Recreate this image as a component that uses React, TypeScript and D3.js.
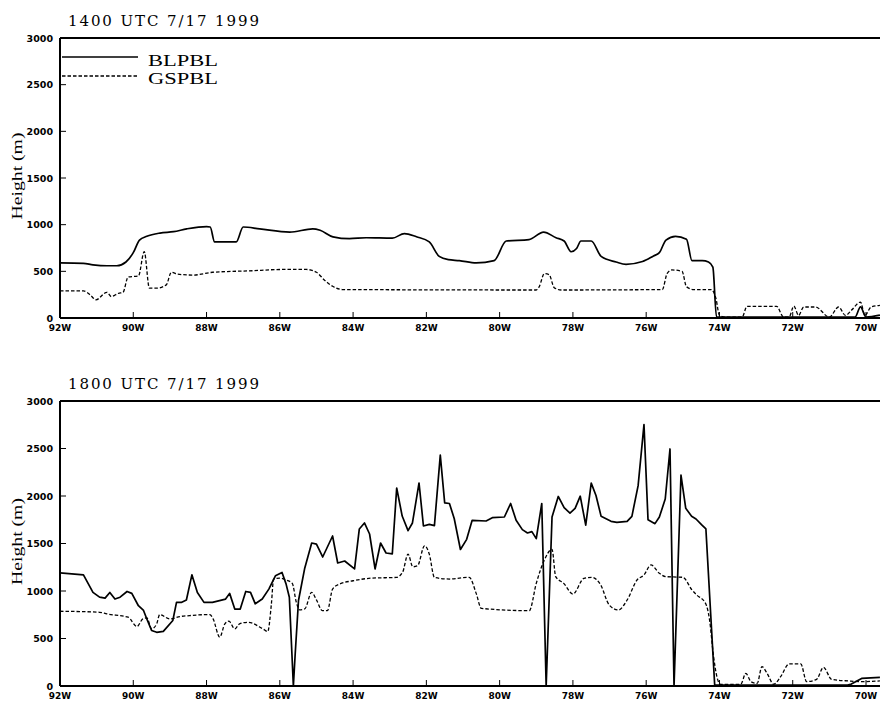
import React from "react";
import * as d3 from "d3";

// Boundary-layer depth along a west-to-east transect, two analysis times.
const titles = ["1400 UTC 7/17 1999", "1800 UTC 7/17 1999"];
const seriesNames = ["BLPBL", "GSPBL"];
const lonTicks = [-92, -90, -88, -86, -84, -82, -80, -78, -76, -74, -72, -70];
const heightTicks = [0, 500, 1000, 1500, 2000, 2500, 3000];

// 1400 UTC, BLPBL
const bl14Lon = [-92, -91.36, -91.1, -90.72, -90.45, -90.2, -90.0, -89.83, -89.63, -89.27, -88.9, -88.54, -88.0, -87.9, -87.78, -87.19, -87.0, -86.55, -85.73, -85.1, -84.9, -84.55, -84.1, -83.64, -82.93, -82.6, -82.27, -81.92, -81.65, -81.4, -81.1, -80.64, -80.15, -79.82, -79.2, -78.8, -78.46, -78.24, -78.05, -77.9, -77.78, -77.5, -77.23, -76.82, -76.55, -76.1, -75.8, -75.64, -75.46, -75.2, -74.9, -74.75, -74.47, -74.3, -74.18, -74.08, -73.5, -72.5, -71.5, -70.5, -70.3, -70.15, -70.0, -69.62];
const bl14Val = [590, 585, 570, 560, 560, 600, 700, 835, 875, 910, 925, 955, 980, 975, 815, 815, 975, 955, 920, 955, 940, 870, 850, 860, 855, 905, 870, 815, 660, 625, 615, 590, 615, 825, 840, 920, 860, 825, 710, 745, 825, 825, 660, 600, 575, 605, 665, 700, 835, 875, 845, 615, 615, 600, 545, 10, 10, 10, 10, 10, 10, 120, 10, 30];

// 1400 UTC, GSPBL
const gs14Lon = [-92, -91.36, -91.18, -91.02, -90.72, -90.6, -90.4, -90.28, -90.14, -89.86, -89.7, -89.56, -89.36, -89.1, -88.96, -88.8, -88.37, -87.83, -86.83, -85.92, -85.28, -85.0, -84.78, -84.56, -84.29, -79.0, -78.92, -78.78, -78.65, -78.51, -78.32, -75.56, -75.43, -75.3, -75.02, -74.9, -74.7, -74.23, -74.1, -74.0, -73.86, -73.38, -73.25, -72.44, -72.25, -72.1, -71.97, -71.84, -71.7, -71.38, -71.0, -70.75, -70.56, -70.4, -70.15, -70.03, -69.86, -69.62];
const gs14Val = [290, 290, 250, 195, 275, 230, 265, 275, 440, 450, 710, 320, 320, 355, 490, 470, 460, 490, 505, 520, 520, 490, 405, 340, 305, 300, 335, 475, 465, 325, 300, 305, 475, 515, 500, 335, 305, 305, 215, 30, 10, 10, 125, 125, 10, 10, 128, 28, 118, 118, 10, 118, 28, 82, 171, 28, 118, 135];

// 1800 UTC, BLPBL
const bl18Lon = [-92, -91.36, -91.1, -90.92, -90.77, -90.64, -90.5, -90.36, -90.17, -90.04, -89.86, -89.72, -89.63, -89.5, -89.36, -89.18, -88.92, -88.82, -88.69, -88.55, -88.4, -88.25, -88.07, -87.84, -87.48, -87.37, -87.23, -87.08, -86.93, -86.8, -86.67, -86.48, -86.3, -86.12, -85.94, -85.83, -85.74, -85.67, -85.63, -85.58, -85.49, -85.32, -85.13, -85.0, -84.83, -84.56, -84.42, -84.23, -83.96, -83.83, -83.69, -83.55, -83.4, -83.25, -83.1, -82.93, -82.81, -82.66, -82.5, -82.38, -82.2, -82.08, -81.92, -81.78, -81.62, -81.5, -81.37, -81.24, -81.07, -80.9, -80.75, -80.37, -80.2, -79.87, -79.7, -79.55, -79.38, -79.24, -79.12, -79.0, -78.85, -78.73, -78.57, -78.4, -78.24, -78.08, -77.94, -77.8, -77.65, -77.5, -77.37, -77.23, -76.96, -76.8, -76.52, -76.39, -76.22, -76.06, -75.95, -75.76, -75.64, -75.48, -75.35, -75.24, -75.05, -74.92, -74.76, -74.64, -74.49, -74.37, -74.13, -73.5, -72.5, -71.5, -70.5, -70.4, -70.12, -69.62];
const bl18Val = [1190, 1170, 985, 935, 925, 985, 915, 935, 995, 975, 845, 795, 705, 585, 565, 575, 690, 880, 880, 905, 1170, 985, 880, 880, 915, 975, 810, 810, 995, 985, 865, 915, 1020, 1160, 1195, 1075, 935, 340, 0, 340, 900, 1240, 1505, 1494, 1358, 1579, 1295, 1316, 1232, 1653, 1716, 1600, 1232, 1505, 1400, 1390, 2084, 1789, 1635, 1716, 2137, 1684, 1702, 1688, 2430, 1928, 1921, 1763, 1437, 1544, 1744, 1737, 1772, 1779, 1921, 1744, 1646, 1611, 1625, 1551, 1921, 0, 1779, 1995, 1877, 1821, 1870, 1998, 1693, 2135, 2005, 1786, 1733, 1723, 1733, 1786, 2109, 2751, 1751, 1709, 1779, 1968, 2495, 0, 2221, 1870, 1786, 1758, 1698, 1653, 10, 10, 10, 10, 10, 20, 80, 90];

// 1800 UTC, GSPBL
const gs18Lon = [-92, -90.92, -90.72, -90.14, -89.9, -89.74, -89.63, -89.5, -89.36, -89.28, -89.0, -88.73, -88.46, -87.91, -87.82, -87.64, -87.5, -87.39, -87.23, -87.1, -86.87, -86.46, -86.33, -86.23, -86.17, -86.0, -85.82, -85.66, -85.55, -85.46, -85.32, -85.13, -85.0, -84.84, -84.7, -84.56, -84.37, -84.0, -83.47, -82.82, -82.65, -82.5, -82.37, -82.24, -82.05, -81.92, -81.78, -81.37, -80.83, -80.64, -80.5, -79.19, -79.0, -78.78, -78.57, -78.47, -78.25, -78.0, -77.7, -77.48, -77.24, -77.01, -76.76, -76.52, -76.25, -76.06, -75.87, -75.64, -75.46, -75.0, -74.75, -74.62, -74.38, -74.27, -74.16, -74.07, -73.97, -73.42, -73.28, -73.14, -72.97, -72.84, -72.7, -72.52, -72.33, -72.1, -71.78, -71.62, -71.35, -71.16, -70.94, -70.47, -70.12, -69.62];
const gs18Val = [787, 776, 759, 724, 626, 706, 717, 601, 654, 752, 706, 731, 741, 752, 706, 514, 654, 682, 601, 654, 671, 601, 573, 864, 1126, 1136, 1115, 1080, 881, 801, 811, 986, 906, 794, 794, 1021, 1073, 1108, 1136, 1143, 1196, 1388, 1255, 1266, 1476, 1388, 1143, 1126, 1144, 975, 817, 793, 1080, 1326, 1439, 1151, 1080, 968, 1133, 1144, 1063, 853, 800, 905, 1116, 1168, 1274, 1186, 1151, 1144, 1011, 958, 870, 695, 309, 98, 18, 18, 133, 46, 28, 204, 133, 18, 98, 232, 232, 46, 70, 196, 70, 53, 46, 53];

const W = 882;
const H = 705;
const X0 = 60;
const X1 = 880;

type Series = { lon: number[]; val: number[]; dashed: boolean; smooth: boolean };

const panels = [
  {
    title: titles[0],
    top: 38,
    bottom: 318,
    legend: true,
    series: [
      { lon: bl14Lon, val: bl14Val, dashed: false, smooth: true },
      { lon: gs14Lon, val: gs14Val, dashed: true, smooth: true },
    ] as Series[],
  },
  {
    title: titles[1],
    top: 401,
    bottom: 686,
    legend: false,
    series: [
      { lon: bl18Lon, val: bl18Val, dashed: false, smooth: false },
      { lon: gs18Lon, val: gs18Val, dashed: true, smooth: true },
    ] as Series[],
  },
];

const x = d3.scaleLinear().domain([-92, -70]).range([X0, 866]);

const tickFont = "'DejaVu Sans', sans-serif";
const serif = "'Liberation Serif', 'DejaVu Serif', serif";
const titleFont = "'DejaVu Serif', 'Liberation Serif', serif";

function Panel({ p, idx }: { p: (typeof panels)[number]; idx: number }) {
  const y = d3.scaleLinear().domain([0, 3000]).range([p.bottom, p.top]);
  const clipId = `plot-clip-${idx}`;
  return (
    <g>
      <defs>
        <clipPath id={clipId}>
          <rect x={X0} y={p.top - 2} width={X1 - X0 + 2} height={p.bottom - p.top + 3} />
        </clipPath>
      </defs>
      <text
        x={68}
        y={p.top - 12}
        fontFamily={titleFont}
        fontSize={15}
        textLength={191}
        lengthAdjust="spacing"
        fill="#000"
      >
        {p.title}
      </text>
      <g clipPath={`url(#${clipId})`}>
        {p.series.map((s, i) => {
          const pts: [number, number][] = s.lon.map((lon, k) => [lon, s.val[k]]);
          const line = d3
            .line<[number, number]>()
            .x((d) => x(d[0]))
            .y((d) => y(d[1]))
            .curve(s.smooth ? d3.curveMonotoneX : d3.curveLinear);
          return (
            <path
              key={i}
              d={line(pts) ?? ""}
              fill="none"
              stroke="#000"
              strokeWidth={s.dashed ? 1.3 : 1.7}
              strokeDasharray={s.dashed ? "3.5,2" : undefined}
              strokeLinejoin="round"
            />
          );
        })}
      </g>
      {/* frame: top line, left and bottom axes */}
      <line x1={X0} x2={X1} y1={p.top} y2={p.top} stroke="#000" strokeWidth={2} />
      <line x1={X0} x2={X0} y1={p.top} y2={p.bottom} stroke="#000" strokeWidth={2} />
      <line x1={X0} x2={X1} y1={p.bottom} y2={p.bottom} stroke="#000" strokeWidth={2} />
      {lonTicks.map((t) => (
        <g key={t}>
          <line x1={x(t)} x2={x(t)} y1={p.bottom} y2={p.bottom - 6} stroke="#000" strokeWidth={1} />
          <text
            x={x(t)}
            y={p.bottom + 13}
            textAnchor="middle"
            fontFamily={tickFont}
            fontWeight="bold"
            fontSize={9}
            fill="#000"
          >
            {`${Math.abs(t)}W`}
          </text>
        </g>
      ))}
      {heightTicks.map((t) => (
        <g key={t}>
          <line x1={X0} x2={X0 + 6} y1={y(t)} y2={y(t)} stroke="#000" strokeWidth={1} />
          <text
            x={53}
            y={y(t) + 3.5}
            textAnchor="end"
            fontFamily={tickFont}
            fontWeight="bold"
            fontSize={9.5}
            fill="#000"
          >
            {t}
          </text>
        </g>
      ))}
      <text
        transform={`translate(22, ${(p.top + p.bottom) / 2 - 2}) rotate(-90)`}
        textAnchor="middle"
        fontFamily={serif}
        fontSize={15}
        textLength={87}
        lengthAdjust="spacingAndGlyphs"
        fill="#000"
      >
        Height (m)
      </text>
      {p.legend &&
        seriesNames.map((name, i) => (
          <g key={name}>
            <line
              x1={62}
              x2={138}
              y1={57 + i * 19}
              y2={57 + i * 19}
              stroke="#000"
              strokeWidth={i === 0 ? 1.7 : 1.3}
              strokeDasharray={i === 0 ? undefined : "3.5,2"}
            />
            <text
              x={148}
              y={66 + i * 18}
              fontFamily={serif}
              fontSize={17}
              textLength={70}
              lengthAdjust="spacingAndGlyphs"
              fill="#000"
            >
              {name}
            </text>
          </g>
        ))}
    </g>
  );
}

export default function App() {
  return (
    <svg
      width={W}
      height={H}
      viewBox={`0 0 ${W} ${H}`}
      style={{ position: "absolute", left: 0, top: 0, background: "#fff" }}
    >
      <rect width={W} height={H} fill="#fff" />
      {panels.map((p, i) => (
        <Panel key={i} p={p} idx={i} />
      ))}
    </svg>
  );
}
